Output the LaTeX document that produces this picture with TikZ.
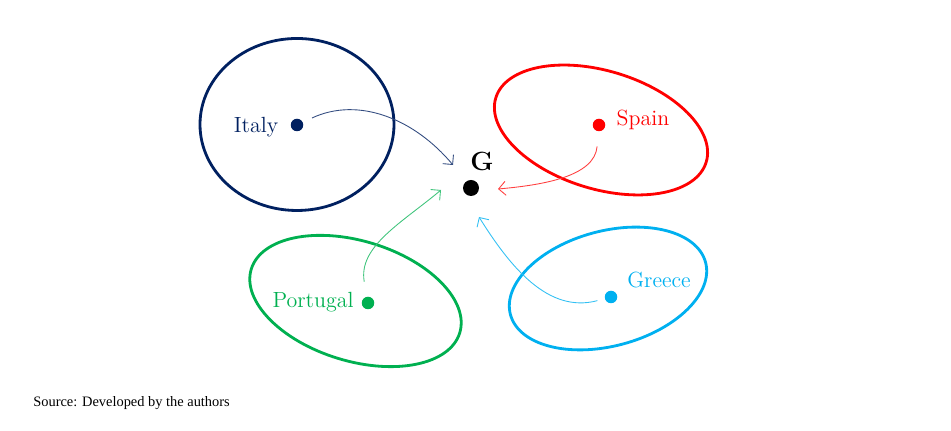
\documentclass[tikz,border=0pt]{standalone}
\usepackage{fontspec}
\newfontfamily\srcfont{Liberation Serif}
\usetikzlibrary{arrows.meta,calc}
\definecolor{itblue}{HTML}{002060}
\definecolor{esred}{HTML}{FF0000}
\definecolor{ptgreen}{HTML}{00B050}
\definecolor{grcyan}{HTML}{00B0F0}
\begin{document}
\begin{tikzpicture}[x=0.02cm,y=0.02cm,font=\fontsize{12.5}{15}\selectfont,ring/.style={line width=1.6pt},dot/.style={circle,fill,inner sep=0pt,minimum size=0.25cm},link/.style={->,line width=0.5pt,shorten <=#1},>={Straight Barb[length=1.4mm,width=2.8mm]}]
\useasboundingbox (0,0) rectangle (951,431);
\draw[ring,itblue] (297,306.5) ellipse [x radius=97,y radius=86];
\draw[ring,esred,rotate around={-17:(601,301)}] (601,301) ellipse [x radius=110,y radius=59];
\draw[ring,ptgreen,rotate around={-17:(355.5,130)}] (355.5,130) ellipse [x radius=109,y radius=60];
\draw[ring,grcyan,rotate around={15:(608,142.5)}] (608,142.5) ellipse [x radius=101,y radius=57.5];
\node[dot,minimum size=0.32cm] (g) at (471,243) {};
\node[font=\fontsize{15}{18}\selectfont\bfseries] (gl) at (482,270) {G};
\node[dot,itblue] (it) at (297,306) {};
\node[itblue] (itl) at (256,304) {Italy};
\node[dot,esred] (es) at (599,306) {};
\node[esred] (esl) at (643,311.5) {Spain};
\node[dot,ptgreen] (pt) at (368,128) {};
\node[ptgreen] (ptl) at (313,129) {Portugal};
\node[dot,grcyan] (gr) at (611,134) {};
\node[grcyan] (grl) at (659,150.5) {Greece};
\coordinate (itend) at ($(g)+(-18,23)$);
\coordinate (esend) at ($(g)+(27,-1)$);
\coordinate (ptend) at ($(g)+(-30,-2)$);
\coordinate (grend) at ($(g)+(8,-29)$);
\draw[link=0.2cm,itblue!80] (it) to[out=25,in=130] (itend);
\draw[link=0.3cm,esred!75] (es) to[out=-95,in=5] (esend);
\draw[link=0.3cm,ptgreen!75] (pt) to[out=100,in=220] (ptend);
\draw[link=0.15cm,grcyan!80] (gr) to[out=195,in=-58] (grend);
\node[anchor=west,inner sep=0pt,font=\srcfont\fontsize{8.2}{10}\selectfont] (src) at (33,27.5) {Source: Developed by the authors};
\end{tikzpicture}
\end{document}
